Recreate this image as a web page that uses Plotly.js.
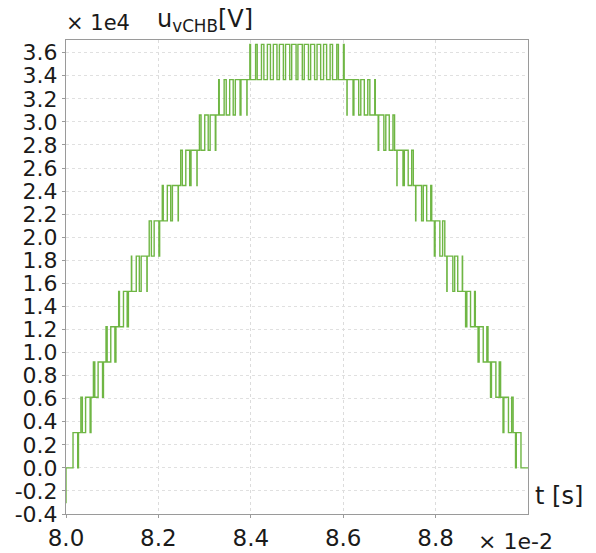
<!DOCTYPE html>
<html>
<head>
<meta charset="utf-8">
<script src="https://cdn.plot.ly/plotly-3.0.1.min.js"></script>
<style>html,body{margin:0;padding:0;background:#fff;}#chart{width:596px;height:553px;}</style>
</head>
<body>
<div id="chart"></div>
<script>
// switching instants (x 1e-2 s)
const tSwitch = [
  8.0000, 8.0000,
  8.0152, 8.0253,
  8.0270, 8.0322, 8.0354,
  8.0424, 8.0522,
  8.0541, 8.0593, 8.0623,
  8.0695, 8.0791,
  8.0811, 8.0866, 8.0891,
  8.0969, 8.1058,
  8.1081, 8.1140, 8.1157,
  8.1244, 8.1324,
  8.1351, 8.1416, 8.1422,
  8.1521, 8.1587,
  8.1627, 8.1751,
  8.1757, 8.1801, 8.1848,
  8.1908, 8.2011,
  8.2027, 8.2084, 8.2105,
  8.2193, 8.2266,
  8.2303, 8.2427,
  8.2432, 8.2482, 8.2518,
  8.2593, 8.2677,
  8.2706, 8.2834,
  8.2838, 8.2888, 8.2923,
  8.3003, 8.3078,
  8.3120, 8.3232,
  8.3243, 8.3305, 8.3317,
  8.3423, 8.3468,
  8.3543, 8.3619,
  8.3665, 8.3768,
  8.3787, 8.3915,
  8.3919, 8.3979, 8.3994,
  8.4104, 8.4139,
  8.4231, 8.4283,
  8.4359, 8.4425,
  8.4488, 8.4566,
  8.4619, 8.4705,
  8.4752, 8.4843,
  8.4885, 8.4980,
  8.5020, 8.5115,
  8.5157, 8.5248,
  8.5295, 8.5381,
  8.5434, 8.5512,
  8.5575, 8.5641,
  8.5717, 8.5769,
  8.5861, 8.5896,
  8.6006, 8.6021,
  8.6081, 8.6085, 8.6213,
  8.6232, 8.6335,
  8.6381, 8.6457,
  8.6532, 8.6577,
  8.6683, 8.6695,
  8.6757, 8.6768, 8.6880,
  8.6922, 8.6997,
  8.7077, 8.7112,
  8.7162, 8.7166, 8.7294,
  8.7323, 8.7407,
  8.7482, 8.7518,
  8.7568, 8.7573, 8.7697,
  8.7734, 8.7807,
  8.7895, 8.7916,
  8.7973, 8.7989, 8.8092,
  8.8152, 8.8199,
  8.8243, 8.8249, 8.8373,
  8.8413, 8.8479,
  8.8578, 8.8584,
  8.8649, 8.8676, 8.8756,
  8.8843, 8.8860,
  8.8919, 8.8942, 8.9031,
  8.9109, 8.9134,
  8.9189, 8.9209, 8.9305,
  8.9377, 8.9407,
  8.9459, 8.9478, 8.9577,
  8.9646, 8.9678,
  8.9730, 8.9747, 8.9848,
  9.0000
];
// output level (number of inserted cells) after each switching instant
const levelAfter = [
  -1, 0,
  1, 0,
  1, 2, 1,
  2, 1,
  2, 3, 2,
  3, 2,
  3, 4, 3,
  4, 3,
  4, 5, 4,
  5, 4,
  5, 6, 5,
  6, 5,
  6, 5,
  6, 7, 6,
  7, 6,
  7, 8, 7,
  8, 7,
  8, 7,
  8, 9, 8,
  9, 8,
  9, 8,
  9, 10, 9,
  10, 9,
  10, 9,
  10, 11, 10,
  11, 10,
  11, 10,
  11, 10,
  11, 10,
  11, 12, 11,
  12, 11,
  12, 11,
  12, 11,
  12, 11,
  12, 11,
  12, 11,
  12, 11,
  12, 11,
  12, 11,
  12, 11,
  12, 11,
  12, 11,
  12, 11,
  12, 11,
  12, 11,
  10, 11, 10,
  11, 10,
  11, 10,
  11, 10,
  11, 10,
  9, 10, 9,
  10, 9,
  10, 9,
  8, 9, 8,
  9, 8,
  9, 8,
  7, 8, 7,
  8, 7,
  8, 7,
  6, 7, 6,
  7, 6,
  5, 6, 5,
  6, 5,
  6, 5,
  4, 5, 4,
  5, 4,
  3, 4, 3,
  4, 3,
  2, 3, 2,
  3, 2,
  1, 2, 1,
  2, 1,
  0, 1, 0,
  0
];
// cell voltage step (x 1e4 V)
const cellStep = 0.306;

const xTickVals = [8.0, 8.2, 8.4, 8.6, 8.8];
const xTickText = ["8.0", "8.2", "8.4", "8.6", "8.8"];
const yTickVals = [-0.4, -0.2, 0.0, 0.2, 0.4, 0.6, 0.8, 1.0, 1.2, 1.4, 1.6, 1.8, 2.0, 2.2, 2.4, 2.6, 2.8, 3.0, 3.2, 3.4, 3.6];
const yTickText = ["-0.4", "-0.2", "0.0", "0.2", "0.4", "0.6", "0.8", "1.0", "1.2", "1.4", "1.6", "1.8", "2.0", "2.2", "2.4", "2.6", "2.8", "3.0", "3.2", "3.4", "3.6"];

const uValues = levelAfter.map(k => k * cellStep);

const FONT = "DejaVu Sans, Verdana, sans-serif";

const trace = {
  x: tSwitch,
  y: uValues,
  type: "scatter",
  mode: "lines",
  line: { shape: "hv", color: "#6fb644", width: 1.4 },
  hoverinfo: "skip"
};

const layout = {
  width: 596,
  height: 553,
  margin: { l: 66, r: 68, t: 40, b: 39 },
  paper_bgcolor: "#ffffff",
  plot_bgcolor: "#ffffff",
  showlegend: false,
  font: { family: FONT, color: "#1a1a1a" },
  xaxis: {
    range: [8.0, 9.0],
    tickvals: xTickVals,
    ticktext: xTickText,
    tickfont: { family: FONT, size: 23, color: "#1a1a1a" },
    showgrid: true,
    gridcolor: "#dcdcdc",
    griddash: "dot",
    gridwidth: 1,
    zeroline: false,
    showline: true,
    linecolor: "#9a9a9a",
    linewidth: 1,
    mirror: true,
    ticks: "outside",
    ticklen: 3,
    tickcolor: "#9a9a9a"
  },
  yaxis: {
    range: [-0.4, 3.71],
    tickvals: yTickVals,
    ticktext: yTickText,
    tickfont: { family: FONT, size: 22, color: "#1a1a1a" },
    showgrid: true,
    gridcolor: "#e0e0e0",
    griddash: "dot",
    gridwidth: 1,
    zeroline: false,
    showline: true,
    linecolor: "#9a9a9a",
    linewidth: 1,
    mirror: true,
    ticks: "outside",
    ticklen: 3,
    tickcolor: "#9a9a9a"
  },
  annotations: [
    { text: "× 1e4", xref: "paper", yref: "paper", x: 0.069, y: 1.036, xanchor: "center", yanchor: "middle", showarrow: false, font: { family: FONT, size: 21, color: "#1a1a1a" } },
    { text: "u<sub>vCHB</sub>[V]", xref: "paper", yref: "paper", x: 0.30, y: 1.042, xanchor: "center", yanchor: "middle", showarrow: false, font: { family: FONT, size: 24, color: "#1a1a1a" } },
    { text: "t [s]", xref: "paper", yref: "paper", x: 1.068, y: 0.038, xanchor: "center", yanchor: "middle", showarrow: false, font: { family: FONT, size: 24, color: "#1a1a1a" } },
    { text: "× 1e-2", xref: "paper", yref: "paper", x: 0.972, y: -0.057, xanchor: "center", yanchor: "middle", showarrow: false, font: { family: FONT, size: 22, color: "#1a1a1a" } }
  ]
};

Plotly.newPlot("chart", [trace], layout, { staticPlot: true, displayModeBar: false });
</script>
</body>
</html>
